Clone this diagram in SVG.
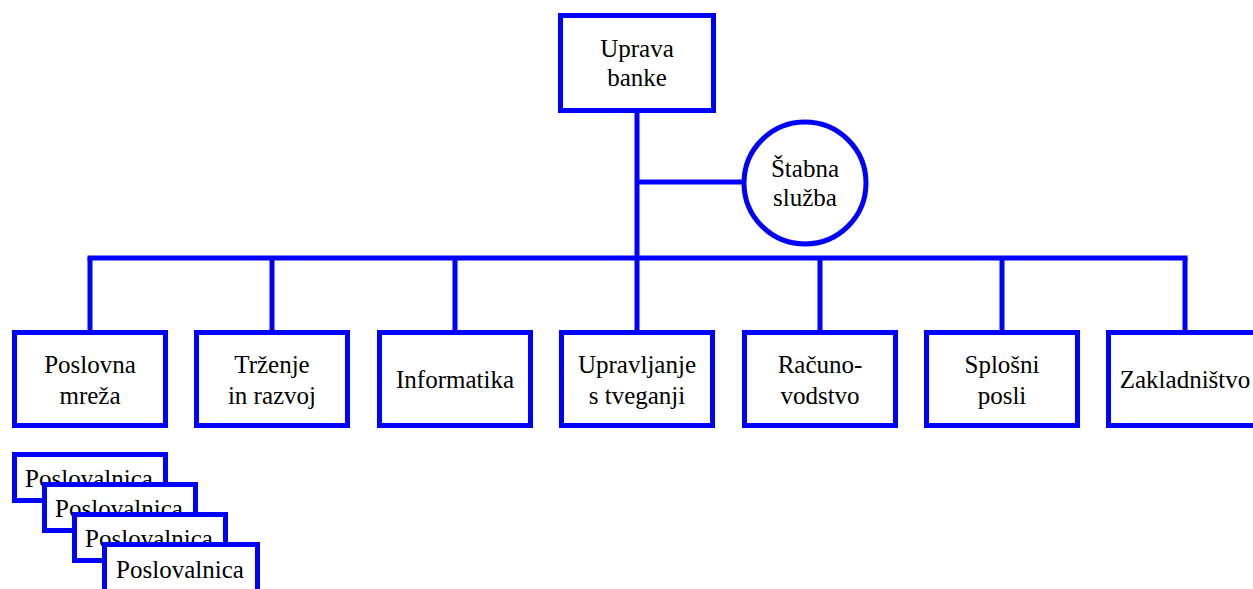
<svg xmlns="http://www.w3.org/2000/svg" width="1253" height="589" viewBox="0 0 1253 589">
<style>
.box{fill:#fff;stroke:#0000ff;stroke-width:5}
.ln{stroke:#0000ff;stroke-width:5;fill:none}
text{font-family:"Liberation Serif","Times New Roman",serif;font-size:25px;fill:#000;text-anchor:middle}
</style>
<rect width="1253" height="589" fill="#fff"/>
<g id="connectors">
<line class="ln" x1="637" y1="110" x2="637" y2="258"/>
<line class="ln" x1="637" y1="182" x2="744" y2="182"/>
<line class="ln" x1="87.5" y1="258" x2="1187.5" y2="258"/>
<line class="ln" x1="90" y1="258" x2="90" y2="332"/>
<line class="ln" x1="272" y1="258" x2="272" y2="332"/>
<line class="ln" x1="455" y1="258" x2="455" y2="332"/>
<line class="ln" x1="637" y1="258" x2="637" y2="332"/>
<line class="ln" x1="820" y1="258" x2="820" y2="332"/>
<line class="ln" x1="1002" y1="258" x2="1002" y2="332"/>
<line class="ln" x1="1185" y1="258" x2="1185" y2="332"/>
</g>
<g id="uprava"><rect class="box" x="560.5" y="15.5" width="153" height="95"/><text x="637" y="57">Uprava</text><text x="637" y="86">banke</text></g>
<g id="stabna"><circle class="box" cx="805" cy="183" r="61"/><text x="805" y="177">Štabna</text><text x="805" y="206">služba</text></g>
<g id="poslovna"><rect class="box" x="14.5" y="332.5" width="151" height="93"/><text x="90" y="373">Poslovna</text><text x="90" y="404">mreža</text></g>
<g id="trzenje"><rect class="box" x="196.5" y="332.5" width="151" height="93"/><text x="272" y="373">Trženje</text><text x="272" y="404">in razvoj</text></g>
<g id="informatika"><rect class="box" x="379.5" y="332.5" width="151" height="93"/><text x="455" y="388">Informatika</text></g>
<g id="upravljanje"><rect class="box" x="561.5" y="332.5" width="151" height="93"/><text x="637" y="373">Upravljanje</text><text x="637" y="404">s tveganji</text></g>
<g id="racunovodstvo"><rect class="box" x="744.5" y="332.5" width="151" height="93"/><text x="820" y="373">Računo-</text><text x="820" y="404">vodstvo</text></g>
<g id="splosni"><rect class="box" x="926.5" y="332.5" width="151" height="93"/><text x="1002" y="373">Splošni</text><text x="1002" y="404">posli</text></g>
<g id="zakladnistvo"><rect class="box" x="1108.5" y="332.5" width="151" height="93"/><text x="1185" y="388">Zakladništvo</text></g>
<g id="poslovalnica1"><rect class="box" x="14.5" y="454.5" width="151" height="46"/><text x="89" y="487">Poslovalnica</text></g>
<g id="poslovalnica2"><rect class="box" x="44.5" y="484.5" width="151" height="46"/><text x="119" y="517">Poslovalnica</text></g>
<g id="poslovalnica3"><rect class="box" x="74.5" y="514.5" width="151" height="46"/><text x="149" y="547">Poslovalnica</text></g>
<g id="poslovalnica4"><rect class="box" x="104.5" y="544.5" width="153" height="60"/><text x="180" y="578">Poslovalnica</text></g>
</svg>
